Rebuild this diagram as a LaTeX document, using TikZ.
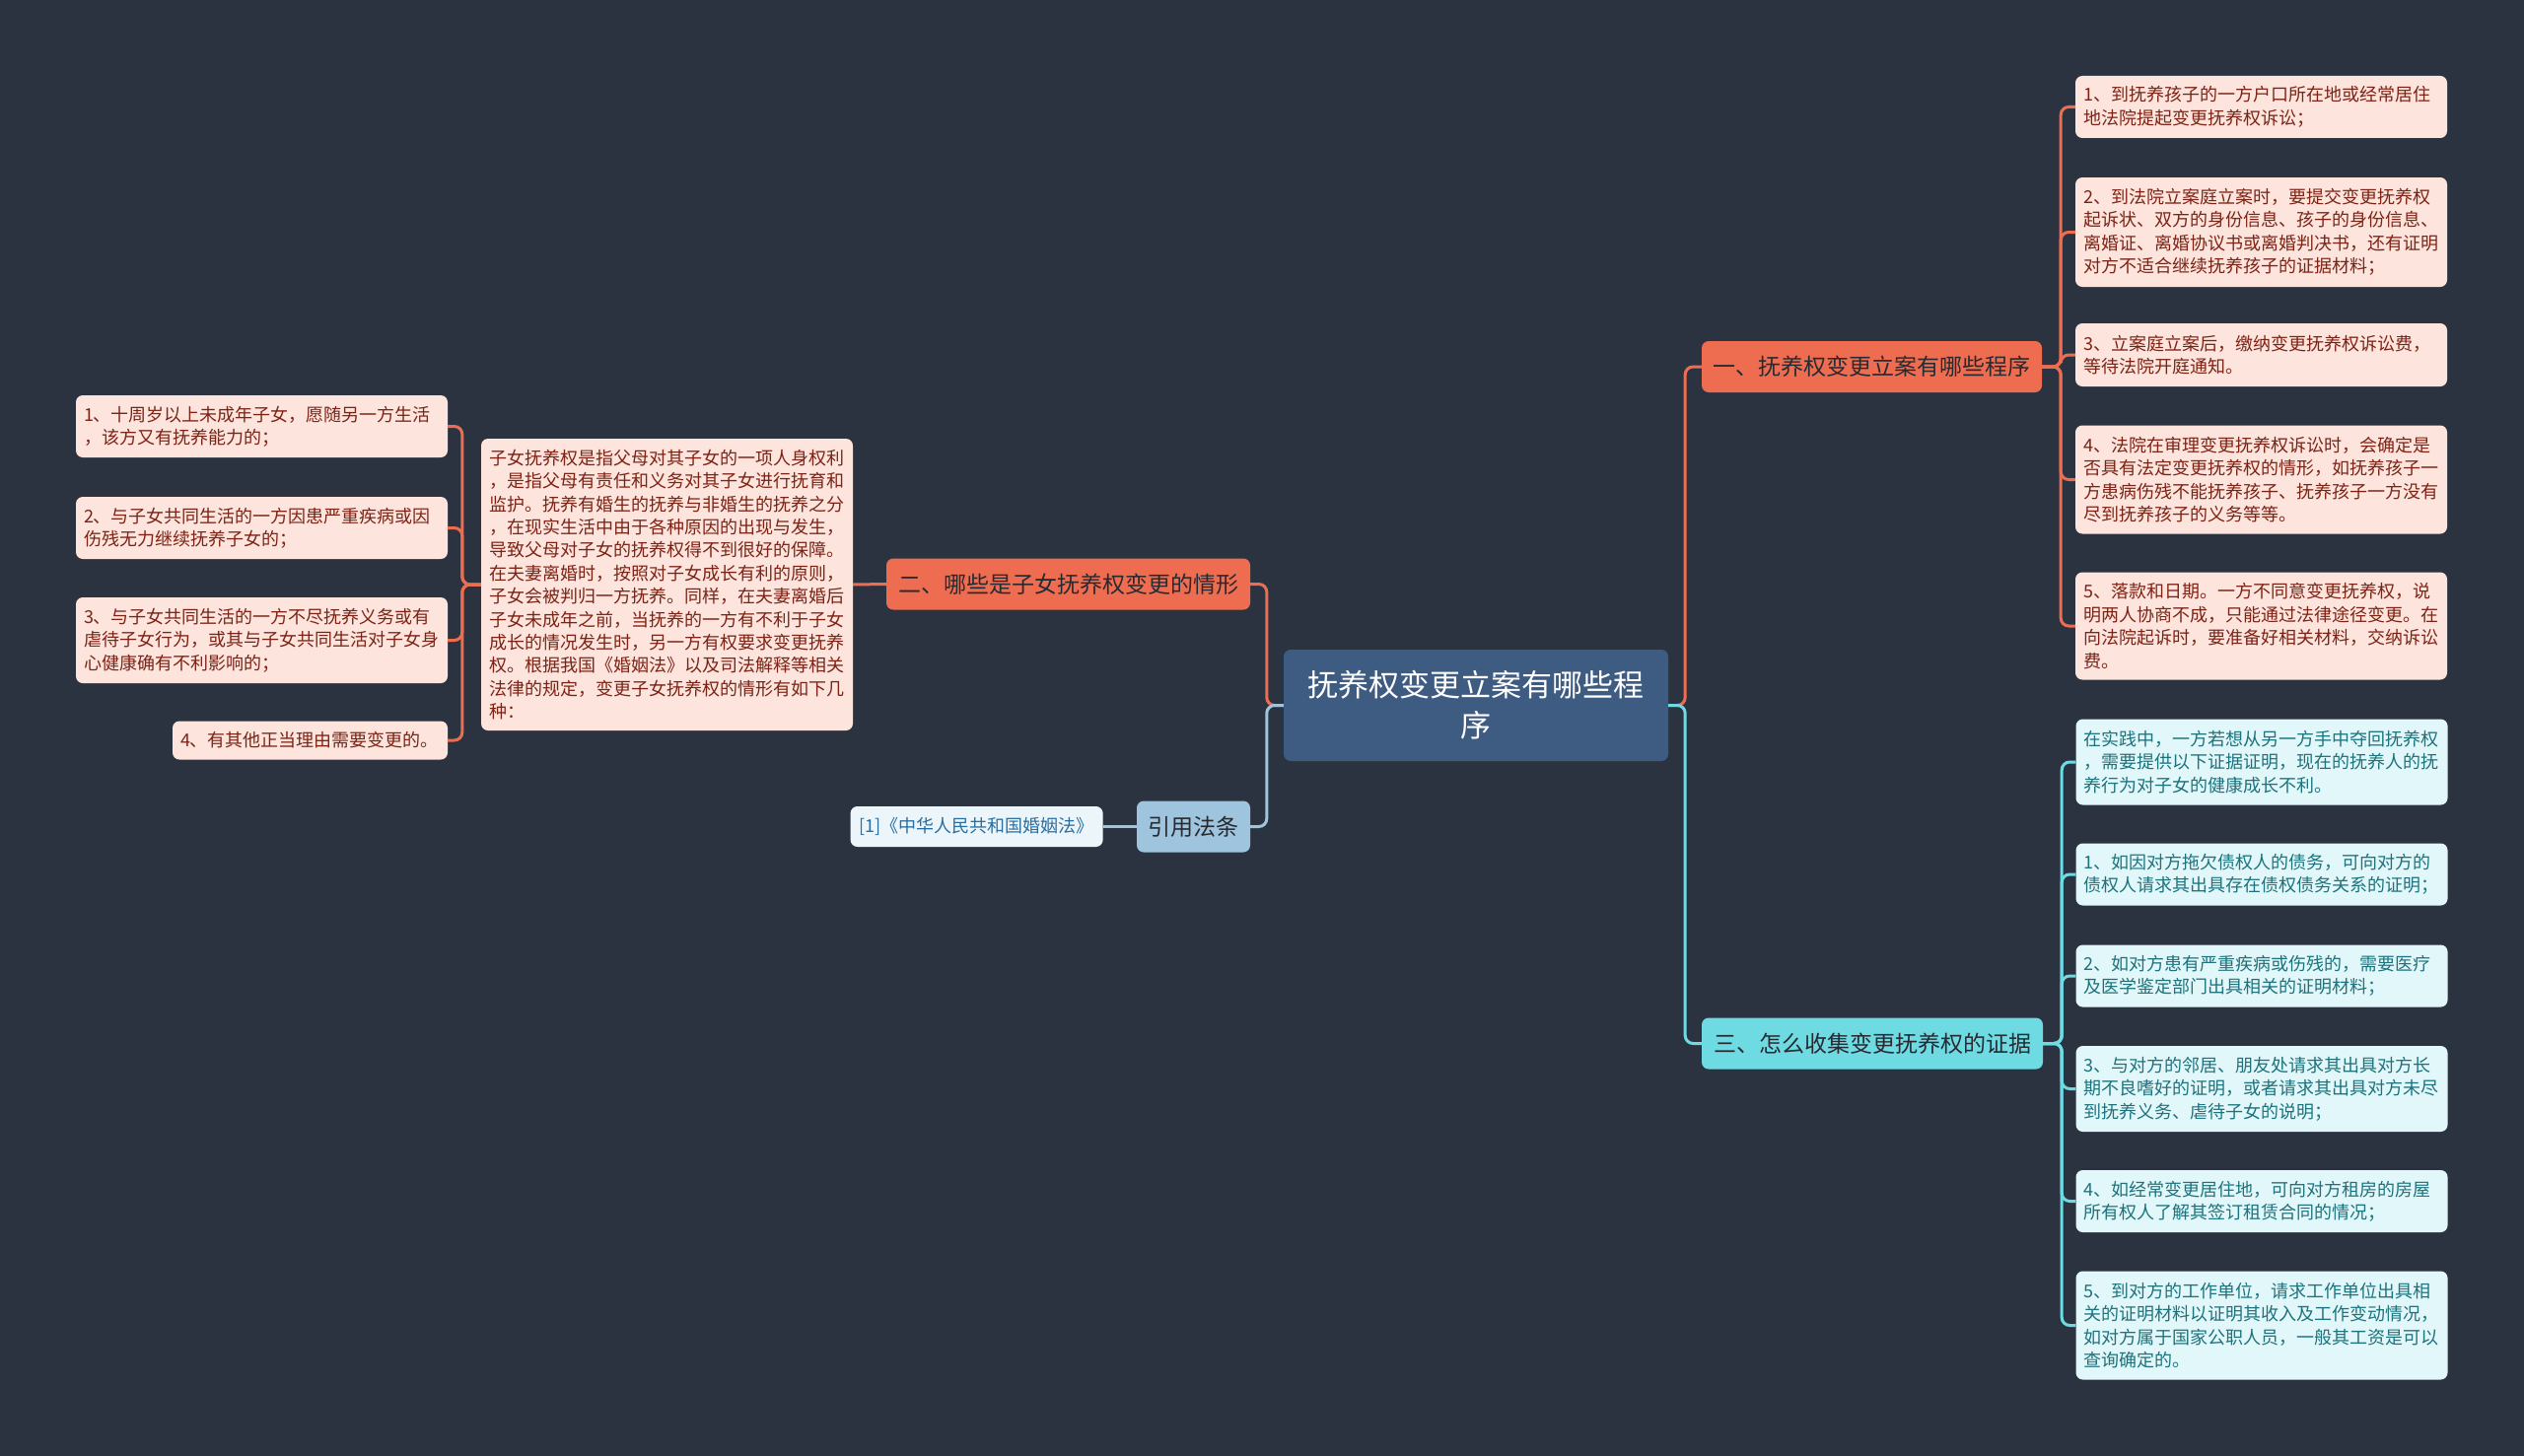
\documentclass[tikz,border=0pt]{standalone}
\usepackage{fontspec}
\newfontfamily\cjk{Noto Sans CJK SC}
\usetikzlibrary{positioning}
\definecolor{bgnavy}{RGB}{43,51,65}
\definecolor{orangemain}{RGB}{238,109,80}
\definecolor{orangeleaf}{RGB}{253,228,220}
\definecolor{orangetext}{RGB}{125,35,22}
\definecolor{cyanmain}{RGB}{110,218,226}
\definecolor{cyanleaf}{RGB}{226,247,249}
\definecolor{cyantext}{RGB}{28,115,125}
\definecolor{rootblue}{RGB}{62,91,130}
\definecolor{lawblue}{RGB}{158,196,222}
\definecolor{citefill}{RGB}{236,245,250}
\definecolor{citetext}{RGB}{40,110,160}
\definecolor{darktext}{RGB}{40,42,50}

\begin{document}
\begin{tikzpicture}[
    x=1pt, y=-1pt,
    box/.style={rectangle, rounded corners=7pt, inner sep=0pt, align=center},
    leaf/.style={box, text width=361pt, align=left, minimum width=377pt, font=\cjk\fontsize{18}{23.4}\selectfont},
    oleaf/.style={leaf, fill=orangeleaf, text=orangetext},
    cleaf/.style={leaf, fill=cyanleaf, text=cyantext},
    branch/.style={box, minimum height=52pt, inner xsep=11pt, text=darktext, font=\cjk\fontsize{23}{28}\selectfont},
    root/.style={box, fill=rootblue, text=white, minimum width=390pt, minimum height=113pt, font=\cjk\fontsize{31}{41}\selectfont},
    link/.style={line width=3pt, rounded corners=8pt},
    olink/.style={link, draw=orangemain},
    clink/.style={link, draw=cyanmain},
    llink/.style={link, draw=lawblue}
]
    \fill[bgnavy] (0,0) rectangle (2560,1477);

    % Centre
    \node[root] (root) at (1497,715.5) {抚养权变更立案有哪些程\\序};

    % Branch 1: procedure
    \node[branch, fill=orangemain, minimum width=345pt] (proc) at (1898.5,372) {一、抚养权变更立案有哪些程序};
    \node[oleaf, minimum height=63pt] (proc1) at (2293.5,108.5) {1、到抚养孩子的一方户口所在地或经常居住\\地法院提起变更抚养权诉讼；};
    \node[oleaf, minimum height=111pt] (proc2) at (2293.5,235.5) {2、到法院立案庭立案时，要提交变更抚养权\\起诉状、双方的身份信息、孩子的身份信息、\\离婚证、离婚协议书或离婚判决书，还有证明\\对方不适合继续抚养孩子的证据材料；};
    \node[oleaf, minimum height=64pt] (proc3) at (2293.5,360) {3、立案庭立案后，缴纳变更抚养权诉讼费，\\等待法院开庭通知。};
    \node[oleaf, minimum height=110pt] (proc4) at (2293.5,486.5) {4、法院在审理变更抚养权诉讼时，会确定是\\否具有法定变更抚养权的情形，如抚养孩子一\\方患病伤残不能抚养孩子、抚养孩子一方没有\\尽到抚养孩子的义务等等。};
    \node[oleaf, minimum height=109pt] (proc5) at (2293.5,635) {5、落款和日期。一方不同意变更抚养权，说\\明两人协商不成，只能通过法律途径变更。在\\向法院起诉时，要准备好相关材料，交纳诉讼\\费。};

    % Branch 3: evidence
    \node[branch, fill=cyanmain, minimum width=346pt] (evid) at (1899,1058.5) {三、怎么收集变更抚养权的证据};
    \node[cleaf, minimum height=87pt] (evid0) at (2294,773) {在实践中，一方若想从另一方手中夺回抚养权\\，需要提供以下证据证明，现在的抚养人的抚\\养行为对子女的健康成长不利。};
    \node[cleaf, minimum height=63pt] (evid1) at (2294,887) {1、如因对方拖欠债权人的债务，可向对方的\\债权人请求其出具存在债权债务关系的证明；};
    \node[cleaf, minimum height=63pt] (evid2) at (2294,990) {2、如对方患有严重疾病或伤残的，需要医疗\\及医学鉴定部门出具相关的证明材料；};
    \node[cleaf, minimum height=87pt] (evid3) at (2294,1104.5) {3、与对方的邻居、朋友处请求其出具对方长\\期不良嗜好的证明，或者请求其出具对方未尽\\到抚养义务、虐待子女的说明；};
    \node[cleaf, minimum height=63pt] (evid4) at (2294,1218.5) {4、如经常变更居住地，可向对方租房的房屋\\所有权人了解其签订租赁合同的情况；};
    \node[cleaf, minimum height=110pt] (evid5) at (2294,1344.5) {5、到对方的工作单位，请求工作单位出具相\\关的证明材料以证明其收入及工作变动情况，\\如对方属于国家公职人员，一般其工资是可以\\查询确定的。};

    % Branch 2: cases
    \node[branch, fill=orangemain, minimum width=369pt] (cases) at (1083.5,592.5) {二、哪些是子女抚养权变更的情形};
    \node[oleaf, minimum height=296pt] (desc) at (676.5,593) {子女抚养权是指父母对其子女的一项人身权利\\，是指父母有责任和义务对其子女进行抚育和\\监护。抚养有婚生的抚养与非婚生的抚养之分\\，在现实生活中由于各种原因的出现与发生，\\导致父母对子女的抚养权得不到很好的保障。\\在夫妻离婚时，按照对子女成长有利的原则，\\子女会被判归一方抚养。同样，在夫妻离婚后\\子女未成年之前，当抚养的一方有不利于子女\\成长的情况发生时，另一方有权要求变更抚养\\权。根据我国《婚姻法》以及司法解释等相关\\法律的规定，变更子女抚养权的情形有如下几\\种：};
    \node[oleaf, minimum height=63pt] (case1) at (265.5,432.5) {1、十周岁以上未成年子女，愿随另一方生活\\，该方又有抚养能力的；};
    \node[oleaf, minimum height=63pt] (case2) at (265.5,535.5) {2、与子女共同生活的一方因患严重疾病或因\\伤残无力继续抚养子女的；};
    \node[oleaf, minimum height=87pt] (case3) at (265.5,649.5) {3、与子女共同生活的一方不尽抚养义务或有\\虐待子女行为，或其与子女共同生活对子女身\\心健康确有不利影响的；};
    \node[oleaf, text width=263pt, minimum width=279pt, minimum height=39pt] (case4) at (314.5,751) {4、有其他正当理由需要变更的。};

    % Cited law
    \node[branch, fill=lawblue, minimum width=115pt] (law) at (1210.5,838.5) {引用法条};
    \node[box, fill=citefill, text=citetext, minimum width=256pt, minimum height=41pt, font=\cjk\fontsize{18}{23.4}\selectfont, left=34pt of law] (cite) {[1]《中华人民共和国婚姻法》};

    % Connectors
    \draw[olink] (root.east) -- ++(17,0) |- (proc.west);
    \draw[clink] (root.east) -- ++(17,0) |- (evid.west);
    \draw[olink] (root.west) -- ++(-17,0) |- (cases.east);
    \draw[llink] (root.west) -- ++(-17,0) |- (law.east);
    \foreach \n in {1,...,5}
        \draw[olink] (proc.east) -- ++(19,0) |- (proc\n.west);
    \foreach \n in {0,...,5}
        \draw[clink] (evid.east) -- ++(19,0) |- (evid\n.west);
    \draw[olink] (cases.west) -- (desc.east);
    \foreach \n in {1,...,4}
        \draw[olink] (desc.west) -- ++(-19,0) |- (case\n.east);
    \draw[llink] (law.west) -- (cite.east);
\end{tikzpicture}
\end{document}
